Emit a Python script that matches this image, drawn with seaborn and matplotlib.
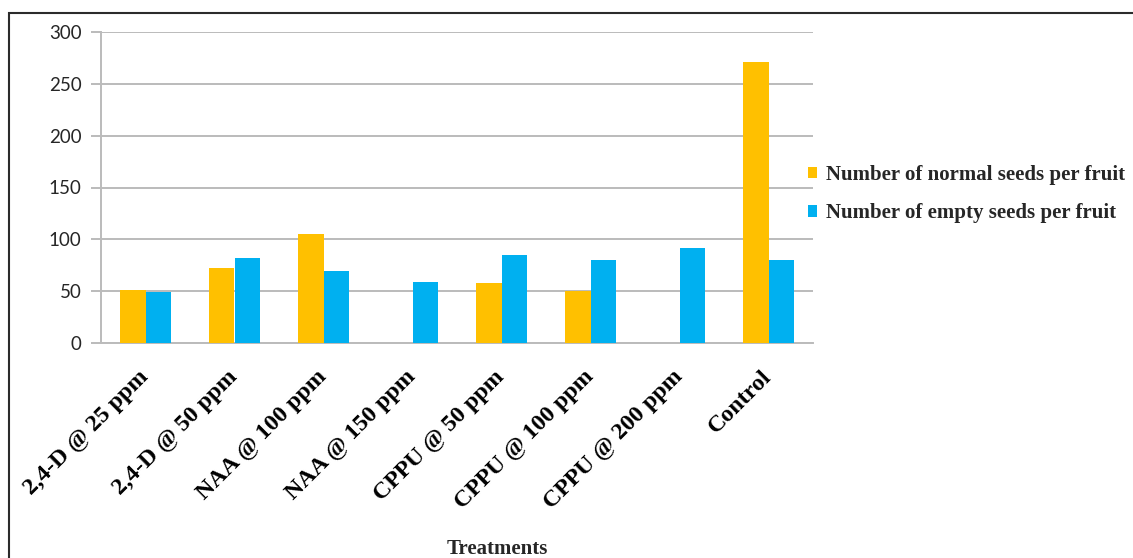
import matplotlib
matplotlib.use("Agg")
import matplotlib.pyplot as plt
from matplotlib.patches import Rectangle
import seaborn as sns
import pandas as pd

treatments = ["2,4-D @ 25 ppm", "2,4-D @ 50 ppm", "NAA @ 100 ppm", "NAA @ 150 ppm",
              "CPPU @ 50 ppm", "CPPU @ 100 ppm", "CPPU @ 200 ppm", "Control"]
normal_seeds = [51, 72, 105, 0, 58, 50, 0, 271]
empty_seeds = [49, 82, 69, 59, 85, 80, 92, 80]
series_names = ["Number of normal seeds per fruit", "Number of empty seeds per fruit"]
y_ticks = [0, 50, 100, 150, 200, 250, 300]

df = pd.DataFrame({
    "Treatment": treatments * 2,
    "Series": [series_names[0]] * len(treatments) + [series_names[1]] * len(treatments),
    "Value": normal_seeds + empty_seeds,
})

sns.set_theme(style="white")
plt.rcParams["font.family"] = ["DejaVu Sans"]

W, H = 1133, 558
fig = plt.figure(figsize=(W / 100, H / 100), dpi=100)
ax = fig.add_axes([101 / W, 1 - 343 / H, (813 - 101) / W, (343 - 32) / H])

palette = {series_names[0]: "#FFC000", series_names[1]: "#00B0F0"}
sns.barplot(data=df, x="Treatment", y="Value", hue="Series", order=treatments,
            hue_order=series_names, palette=palette, width=0.57, gap=0,
            saturation=1, ax=ax, zorder=3, edgecolor="none")

ax.set_ylim(0, 300)
ax.set_yticks(y_ticks)
ax.set_xlim(-0.5, len(treatments) - 0.5)
ax.yaxis.grid(True, color="#BBBBBB", linewidth=1.4, zorder=0)
ax.set_axisbelow(True)
for side in ["top", "right"]:
    ax.spines[side].set_visible(False)
for side in ["left", "bottom"]:
    ax.spines[side].set_color("#BBBBBB")
    ax.spines[side].set_linewidth(1.4)
    ax.spines[side].set_zorder(1)

ax.tick_params(axis="y", which="major", length=7, width=1.4, color="#BBBBBB",
               direction="out", pad=7, left=True)
ax.tick_params(axis="x", length=0, pad=22)
for lab in ax.get_yticklabels():
    lab.set_fontfamily("Lato")
    lab.set_fontsize(13.5)
    lab.set_color("#262626")

ax.set_xticks(range(len(treatments)))
ax.set_xticklabels(treatments, rotation=45, ha="right", va="center",
                   rotation_mode="anchor", fontfamily="Liberation Serif",
                   fontweight="bold", fontsize=17.3, color="black")
ax.set_xlabel("")
ax.set_ylabel("")

leg = ax.legend(loc="center left", bbox_to_anchor=(808 / W, 1 - 194 / H),
                bbox_transform=fig.transFigure, frameon=False,
                prop={"family": "Liberation Serif", "weight": "bold", "size": 15},
                handlelength=0.45, handleheight=0.45, handletextpad=0.4,
                labelspacing=0.9, borderaxespad=0, borderpad=0)

fig.text(497 / W, 1 - 549 / H, "Treatments", ha="center", va="center",
         fontfamily="Liberation Serif", fontweight="bold", fontsize=15)

fig.patches.append(Rectangle((9 / W, -0.1), 2, 1 - 13 / H + 0.1,
                             transform=fig.transFigure, fill=False,
                             edgecolor="#2b2b2b", linewidth=1.5, zorder=10))

fig.savefig("out.png", dpi=100, facecolor="white")
